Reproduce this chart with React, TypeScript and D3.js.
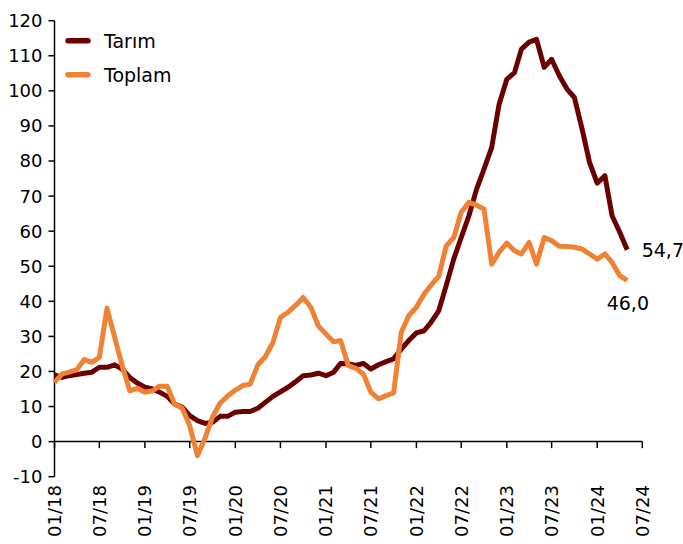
import React from "react";
import * as d3 from "d3";

const START_MONTH = "2018-01";
const END_MONTH = "2024-05";

const tarim: number[] = [
  19.0, 18.3, 18.8, 19.1, 19.5, 19.8, 21.2, 21.2, 21.9, 20.7, 18.3, 16.7,
  15.5, 15.0, 14.1, 12.9, 10.7, 9.8, 7.4, 6.0, 5.2, 5.5, 7.2, 7.2,
  8.4, 8.6, 8.6, 9.5, 11.2, 12.9, 14.2, 15.5, 17.1, 18.8, 19.0, 19.5,
  18.8, 19.8, 22.3, 22.2, 21.7, 22.3, 20.7, 21.9, 22.8, 23.6, 26.4, 28.8,
  31.0, 31.6, 34.0, 37.3, 44.4, 52.1, 58.2, 64.4, 72.0, 77.7, 83.9, 96.2,
  103.3, 105.2, 111.9, 113.9, 114.7, 106.7, 109.0, 104.3, 100.5, 98.1, 89.1, 79.6,
  73.7, 75.8, 64.4, 59.7, 54.7,
];

const toplam: number[] = [
  16.9, 19.3, 19.8, 20.5, 23.4, 22.6, 24.0, 38.0, 29.7, 21.7, 14.5, 15.2,
  14.1, 14.5, 15.8, 15.8, 10.7, 9.5, 4.5, -4.0, 1.0, 7.0, 11.0, 13.0,
  14.7, 16.0, 16.4, 21.9, 24.2, 28.3, 35.4, 36.9, 38.9, 41.1, 38.3, 33.0,
  30.7, 28.5, 28.8, 21.7, 20.9, 19.3, 14.1, 12.2, 13.1, 13.9, 31.2, 35.9,
  38.3, 42.1, 44.6, 47.1, 55.7, 58.2, 65.4, 68.2, 67.4, 66.3, 50.6, 54.0,
  56.6, 54.4, 53.5, 56.8, 50.6, 58.2, 57.3, 55.7, 55.6, 55.4, 54.9, 53.5,
  52.0, 53.5, 51.1, 47.3, 46.0,
];

const xTickLabels: string[] = [
  "01/18", "07/18", "01/19", "07/19", "01/20", "07/20", "01/21",
  "07/21", "01/22", "07/22", "01/23", "07/23", "01/24", "07/24",
];

const yTicks: number[] = [-10, 0, 10, 20, 30, 40, 50, 60, 70, 80, 90, 100, 110, 120];

const seriesNames = ["Tarım", "Toplam"];
const lastLabels = ["54,7", "46,0"];

const COLORS = ["#6B0000", "#EF8234"];
const FONT = "'DejaVu Sans', Verdana, sans-serif";

const parseMonth = d3.timeParse("%Y-%m");
const parseTick = d3.timeParse("%m/%y");

export default function App() {
  const W = 683;
  const H = 544;
  const left = 54.5;
  const right = 642.3;
  const top = 20.7;
  const bottom = 476.7;

  const start = parseMonth(START_MONTH) as Date;
  const end = parseMonth(END_MONTH) as Date;
  const months = d3.timeMonth.range(start, d3.timeMonth.offset(end, 1));
  const tickDates = xTickLabels.map((l) => parseTick(l) as Date);

  const x = d3
    .scaleTime()
    .domain([tickDates[0], tickDates[tickDates.length - 1]])
    .range([left, right]);
  const y = d3.scaleLinear().domain([-10, 120]).range([bottom, top]);

  const line = d3
    .line<number>()
    .x((_, i) => x(months[i]))
    .y((d) => y(d));

  const series = [tarim, toplam];
  const y0 = y(0);

  return (
    <svg
      width={W}
      height={H}
      style={{ position: "absolute", left: 0, top: 0, background: "#fff" }}
      fontFamily={FONT}
    >
      {/* y axis */}
      <line x1={left} x2={left} y1={top} y2={bottom} stroke="#000" strokeWidth={1.5} />
      {yTicks.map((t) => (
        <g key={t}>
          <line x1={left - 6} x2={left} y1={y(t)} y2={y(t)} stroke="#000" strokeWidth={1.5} />
          <text
            x={left - 12}
            y={y(t)}
            dy="0.36em"
            textAnchor="end"
            fontSize={18}
            fill="#000"
          >
            {t}
          </text>
        </g>
      ))}
      {/* x axis at zero */}
      <line x1={left} x2={right} y1={y0} y2={y0} stroke="#000" strokeWidth={1.5} />
      {tickDates.map((d, i) => (
        <g key={i}>
          <line x1={x(d)} x2={x(d)} y1={y0} y2={y0 + 6.5} stroke="#000" strokeWidth={1.5} />
          <text
            transform={`translate(${x(d)},${485}) rotate(-90)`}
            dy="0.36em"
            textAnchor="end"
            fontSize={18}
            fill="#000"
          >
            {xTickLabels[i]}
          </text>
        </g>
      ))}
      {/* lines */}
      {series.map((s, k) => (
        <path
          key={k}
          d={line(s) || ""}
          fill="none"
          stroke={COLORS[k]}
          strokeWidth={5}
          strokeLinejoin="round"
          strokeLinecap="butt"
        />
      ))}
      {/* end labels */}
      <text x={641.7} y={257.3} fontSize={19} fill="#000">
        {lastLabels[0]}
      </text>
      <text x={606.7} y={310} fontSize={19} fill="#000">
        {lastLabels[1]}
      </text>
      {/* legend */}
      {seriesNames.map((n, k) => (
        <g key={n}>
          <line
            x1={68}
            x2={88}
            y1={40.7 + k * 34}
            y2={40.7 + k * 34}
            stroke={COLORS[k]}
            strokeWidth={5.5}
            strokeLinecap="round"
          />
          <text x={104} y={40.7 + k * 34} dy="0.36em" fontSize={19} fill="#000">
            {n}
          </text>
        </g>
      ))}
    </svg>
  );
}
